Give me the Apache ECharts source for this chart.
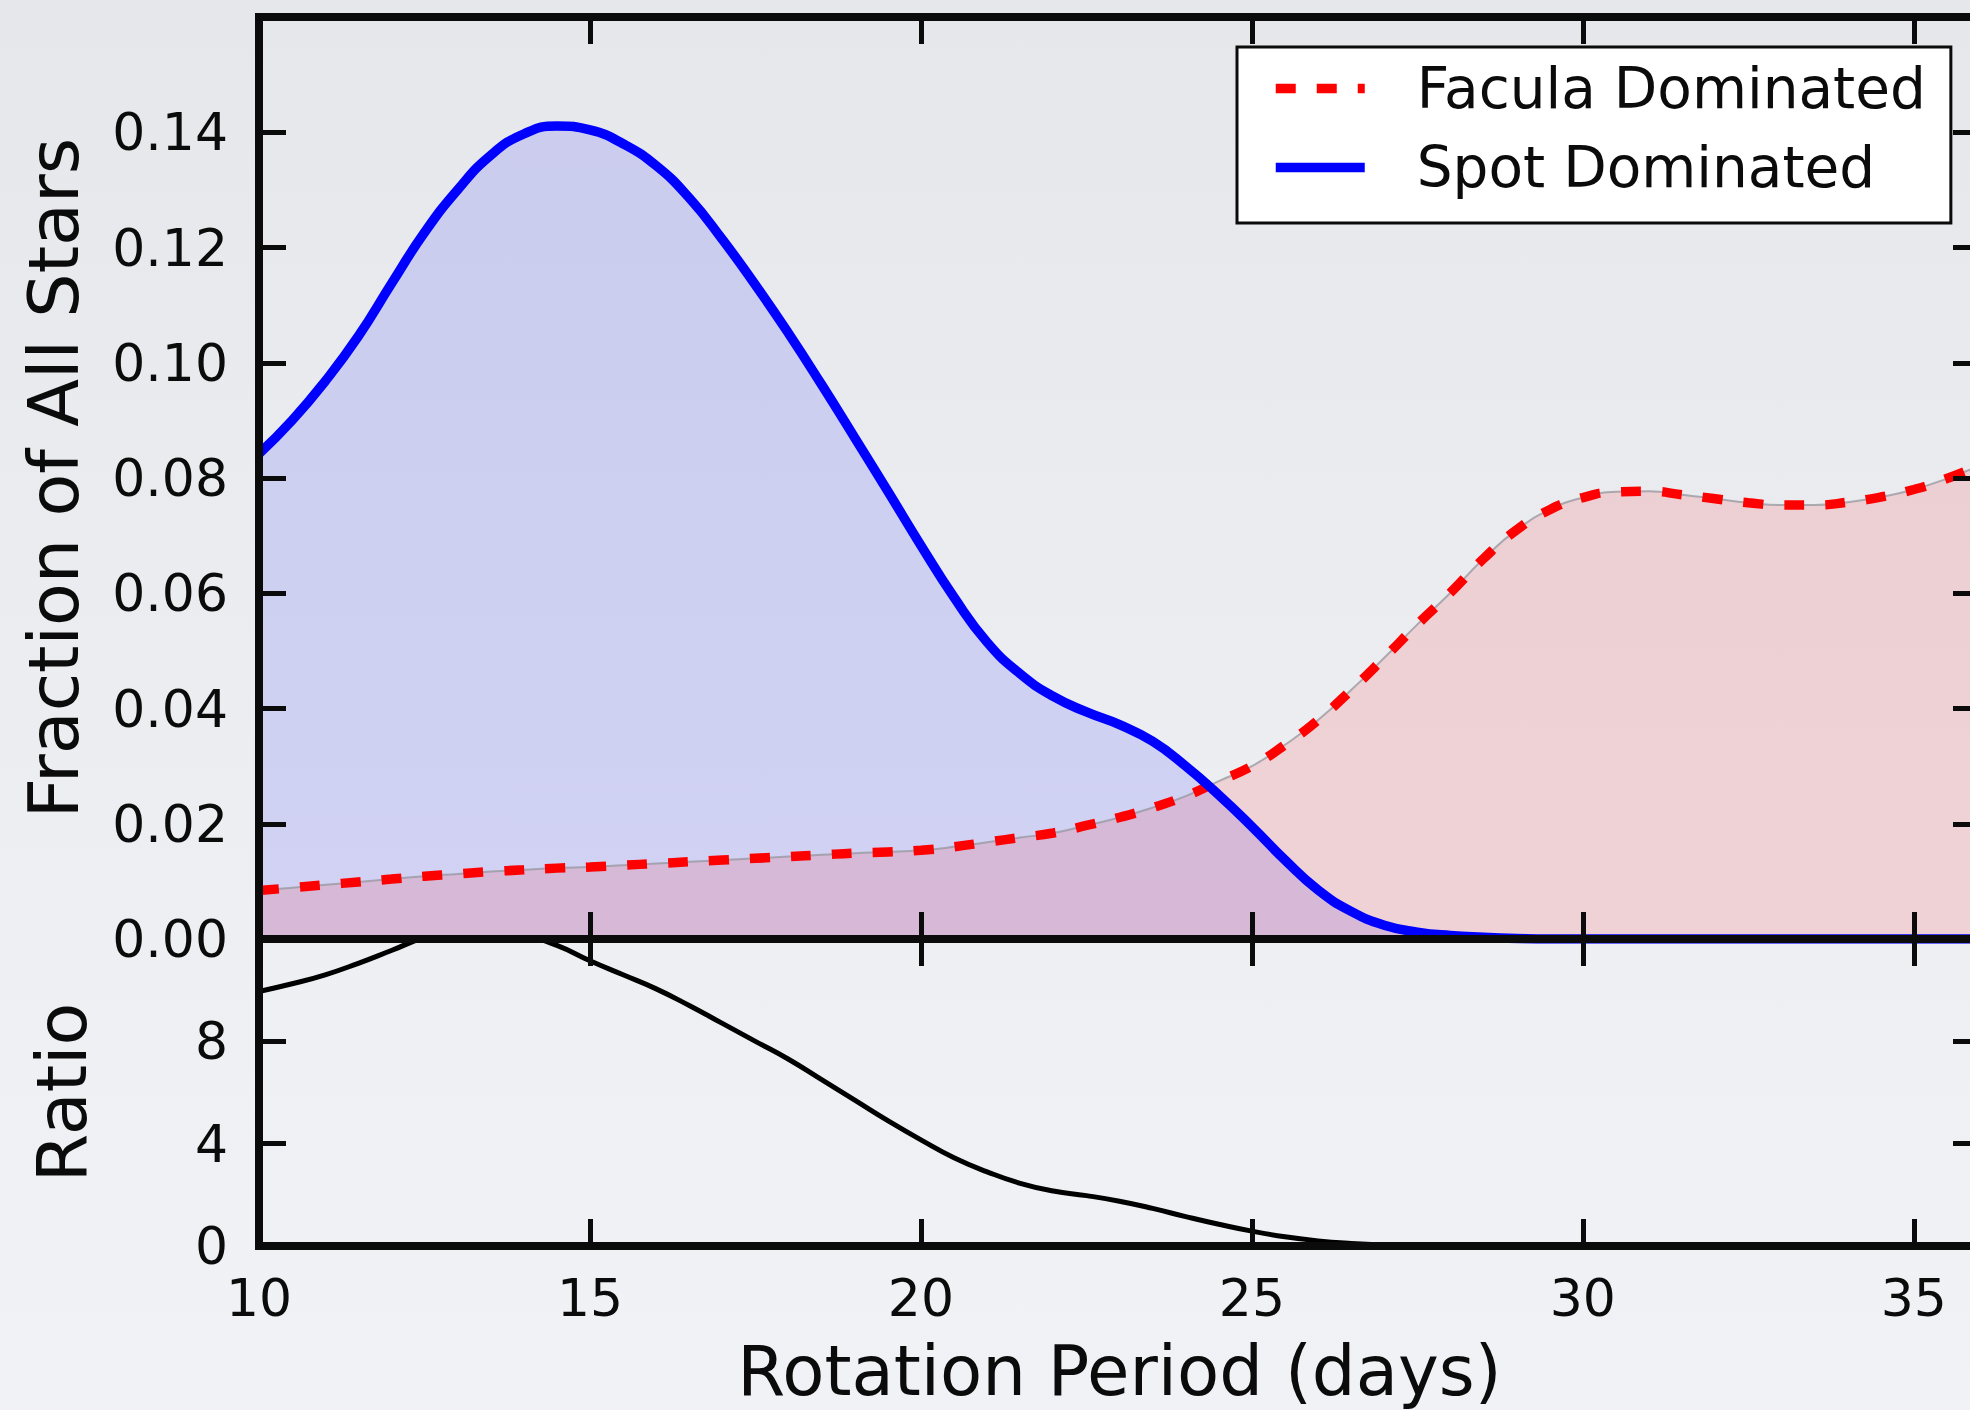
<!DOCTYPE html>
<html>
<head>
<meta charset="utf-8">
<title>Rotation period distribution</title>
<script src="https://cdn.jsdelivr.net/npm/echarts@6/dist/echarts.min.js"></script>
<style>
  html, body { margin: 0; padding: 0; }
  body {
    width: 1970px; height: 1410px; overflow: hidden;
    background: linear-gradient(180deg, #e5e7eb 0%, #eaecf0 40%, #eff0f4 75%, #f1f2f6 100%);
  }
  #chart { width: 1970px; height: 1410px; }
</style>
</head>
<body>
<div id="chart"></div>
<script>
// Rotation period grid (days)
const periods = [
  10, 10.5, 11, 11.5, 12, 12.5, 13, 13.5, 14, 14.5,
  15, 15.5, 16, 16.5, 17, 17.5, 18, 18.5, 19, 19.5,
  20, 20.5, 21, 21.5, 22, 22.5, 23, 23.5, 24, 24.5,
  25, 25.5, 26, 26.5, 27, 27.5, 28, 28.5, 29, 29.5,
  30, 30.5, 31, 31.5, 32, 32.5, 33, 33.5, 34, 34.5,
  35, 35.5, 36
];

// Fraction of all stars, spot-dominated sample
const spotFraction = [
  0.0842, 0.0900, 0.0968, 0.1046, 0.1137, 0.1226, 0.1300, 0.1360, 0.1397, 0.1411,
  0.1404, 0.1380, 0.1342, 0.1286, 0.1214, 0.1135, 0.1051, 0.0962, 0.0870, 0.0777,
  0.0683, 0.0593, 0.0515, 0.0460, 0.0421, 0.0394, 0.0372, 0.0343, 0.0300, 0.0250,
  0.0195, 0.0137, 0.0085, 0.0048, 0.0024, 0.0012, 0.0006, 0.0003, 0.0001, 0,
  0, 0, 0, 0, 0, 0, 0, 0, 0, 0,
  0, 0, 0
];

// Fraction of all stars, facula-dominated sample
const faculaFraction = [
  0.0084, 0.0089, 0.0094, 0.0099, 0.0104, 0.0109, 0.0113, 0.0117, 0.0120, 0.0123,
  0.0125, 0.0128, 0.0131, 0.0134, 0.0137, 0.0140, 0.0143, 0.0146, 0.0149, 0.0151,
  0.0154, 0.0160, 0.0168, 0.0176, 0.0184, 0.0197, 0.0211, 0.0228, 0.0248, 0.0274,
  0.0300, 0.0337, 0.0380, 0.0432, 0.0488, 0.0546, 0.0601, 0.0660, 0.0710, 0.0745,
  0.0766, 0.0776, 0.0777, 0.0771, 0.0764, 0.0757, 0.0753, 0.0753, 0.0758, 0.0767,
  0.0780, 0.0799, 0.0822
];

// Spot / facula ratio
const spotFaculaRatio = [
  9.95, 10.25, 10.6, 11.05, 11.55, 12.05, 12.3, 12.35, 12.15, 11.75,
  11.15, 10.6, 10.05, 9.4, 8.7, 8.0, 7.3, 6.5, 5.7, 4.9,
  4.15, 3.45, 2.9, 2.45, 2.15, 1.97, 1.75, 1.47, 1.15, 0.85,
  0.58, 0.36, 0.2, 0.1, 0.04, 0.015, 0.005, 0, 0, 0,
  0, 0, 0, 0, 0, 0, 0, 0, 0, 0,
  0, 0, 0
];

const seriesNames = ['Facula Dominated', 'Spot Dominated'];
const axisTitles = { x: 'Rotation Period (days)', fraction: 'Fraction of All Stars', ratio: 'Ratio' };

const FONT = 'DejaVu Sans';
const INK = '#0b0b0b';
const SPINE_W = 8;
const SMOOTH = 0.5;

const pairs = (ys) => periods.map((p, i) => [p, ys[i]]);

const spine = { show: true, onZero: false, lineStyle: { color: INK, width: SPINE_W, cap: 'square' } };
const ticks = { show: true, inside: true, length: 27, lineStyle: { color: INK, width: 5 } };
const noLabel = { show: false };
const noSplit = { show: false };

function periodAxis(gridIndex, position, withLabels) {
  const ax = {
    type: 'value', gridIndex, position, min: 10, max: 36, interval: 5,
    axisLine: spine, axisTick: ticks, splitLine: noSplit, z: 10,
    axisLabel: noLabel
  };
  if (withLabels) {
    ax.axisLabel = {
      show: true, margin: 26, showMaxLabel: false,
      fontFamily: FONT, fontSize: 52, color: INK
    };
    ax.name = axisTitles.x;
    ax.nameLocation = 'middle';
    ax.nameGap = 90;
    ax.nameTextStyle = { fontFamily: FONT, fontSize: 69, color: INK };
  }
  return ax;
}

function valueAxis(gridIndex, position, min, max, interval, opts) {
  const ax = {
    type: 'value', gridIndex, position, min, max, interval,
    axisLine: spine, axisTick: ticks, splitLine: noSplit, z: 10,
    axisLabel: noLabel
  };
  if (opts) {
    ax.axisLabel = {
      show: true, margin: 31, showMaxLabel: false,
      fontFamily: FONT, fontSize: 52, color: INK,
      formatter: opts.formatter
    };
    ax.name = opts.name;
    ax.nameLocation = 'middle';
    ax.nameRotate = 90;
    ax.nameGap = opts.nameGap;
    ax.nameTextStyle = { fontFamily: FONT, fontSize: 70, color: INK };
  }
  return ax;
}

const chart = echarts.init(document.getElementById('chart'), null, { renderer: 'svg' });

chart.setOption({
  animation: false,
  backgroundColor: 'transparent',
  grid: [
    { left: 259, top: 17, width: 1721, height: 922, outerBoundsMode: 'none', containLabel: false },
    { left: 259, top: 939, width: 1721, height: 307, outerBoundsMode: 'none', containLabel: false }
  ],
  xAxis: [
    periodAxis(0, 'bottom', false),
    periodAxis(0, 'top', false),
    periodAxis(1, 'top', false),
    periodAxis(1, 'bottom', true)
  ],
  yAxis: [
    valueAxis(0, 'left', 0, 0.16, 0.02, {
      name: axisTitles.fraction, nameGap: 170,
      formatter: (v) => v.toFixed(2)
    }),
    valueAxis(0, 'right', 0, 0.16, 0.02, null),
    valueAxis(1, 'left', 0, 12, 4, {
      name: axisTitles.ratio, nameGap: 162,
      formatter: (v) => String(Math.round(v))
    }),
    valueAxis(1, 'right', 0, 12, 4, null)
  ],
  legend: {
    data: seriesNames,
    orient: 'vertical',
    left: 1237, top: 47,
    padding: [13, 25, 27, 34],
    itemWidth: 89, itemHeight: 20, itemGap: 22,
    backgroundColor: '#ffffff',
    borderColor: INK, borderWidth: 3, borderRadius: 0,
    selectedMode: false,
    lineStyle: { width: 9.5 },
    itemStyle: { opacity: 0 },
    textStyle: { fontFamily: FONT, fontSize: 56.5, color: INK, padding: [0, 0, 0, 47] },
    z: 20
  },
  series: [
    {
      name: 'spot-fill', type: 'line', xAxisIndex: 0, yAxisIndex: 0,
      data: pairs(spotFraction), smooth: SMOOTH, symbol: 'none', silent: true,
      lineStyle: { width: 0, opacity: 0 },
      areaStyle: { color: 'rgba(0, 0, 255, 0.17)' },
      z: 1
    },
    {
      name: 'facula-fill', type: 'line', xAxisIndex: 0, yAxisIndex: 0,
      data: pairs(faculaFraction), smooth: SMOOTH, symbol: 'none', silent: true,
      lineStyle: { width: 2, color: 'rgba(150, 150, 158, 0.75)' },
      areaStyle: { color: 'rgba(255, 0, 0, 0.17)' },
      z: 2
    },
    {
      name: seriesNames[0], type: 'line', xAxisIndex: 0, yAxisIndex: 0,
      data: pairs(faculaFraction), smooth: SMOOTH, symbol: 'none',
      itemStyle: { color: '#ff0000' },
      lineStyle: { color: '#ff0000', width: 9.5, type: [20, 21], cap: 'butt' },
      z: 3
    },
    {
      name: seriesNames[1], type: 'line', xAxisIndex: 0, yAxisIndex: 0,
      data: pairs(spotFraction), smooth: SMOOTH, symbol: 'none',
      itemStyle: { color: '#0000ff' },
      lineStyle: { color: '#0000ff', width: 9.5 },
      z: 4
    },
    {
      name: 'ratio', type: 'line', xAxisIndex: 3, yAxisIndex: 2,
      data: pairs(spotFaculaRatio), smooth: SMOOTH, symbol: 'none',
      itemStyle: { color: '#000000' },
      lineStyle: { color: '#000000', width: 5 },
      z: 3
    }
  ]
});
</script>
</body>
</html>
